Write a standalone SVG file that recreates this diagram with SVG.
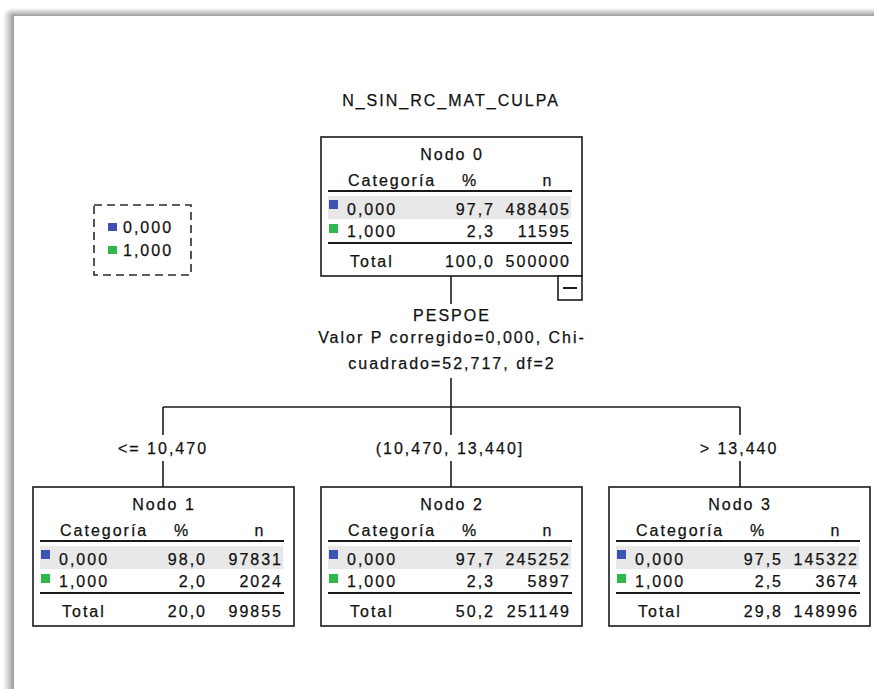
<svg xmlns="http://www.w3.org/2000/svg" width="874" height="689" viewBox="0 0 874 689">
<defs>
<style>
text{font-family:"Liberation Sans",Arial,sans-serif;font-size:16px;letter-spacing:2px;fill:#111;stroke:#111;stroke-width:0.25}
.mid{text-anchor:middle}
.end{text-anchor:end}
.box{fill:#fff;stroke:#1a1a1a;stroke-width:1.6}
.rule{stroke:#1a1a1a;stroke-width:2}
.band{fill:#e8e8e8}
.c0{fill:#3d52b4}
.c1{fill:#2fb84b}
.conn line{stroke:#1a1a1a;stroke-width:1.6}
</style>
<linearGradient id="gl" x1="0" y1="0" x2="1" y2="0">
<stop offset="0" stop-color="#fff"/>
<stop offset="0.6" stop-color="#c4c4c4"/>
<stop offset="1" stop-color="#9a9a9a"/>
</linearGradient>
<linearGradient id="gt" x1="0" y1="0" x2="0" y2="1">
<stop offset="0" stop-color="#fff"/>
<stop offset="0.6" stop-color="#c4c4c4"/>
<stop offset="1" stop-color="#9a9a9a"/>
</linearGradient>
<radialGradient id="gc" cx="1" cy="1" r="1">
<stop offset="0" stop-color="#9a9a9a"/>
<stop offset="0.4" stop-color="#c4c4c4"/>
<stop offset="1" stop-color="#fff"/>
</radialGradient>
</defs>
<rect width="874" height="689" fill="#fff"/>
<rect x="3" y="16" width="11" height="673" fill="url(#gl)"/>
<rect x="14" y="8" width="860" height="8" fill="url(#gt)"/>
<rect x="3" y="8" width="11" height="8" fill="url(#gc)"/>

<text x="451" y="106" class="mid">N_SIN_RC_MAT_CULPA</text>

<g id="legend">
<rect x="94" y="205" width="97" height="70" fill="none" stroke="#2a2a2a" stroke-width="1.6" stroke-dasharray="8,5"/>
<rect x="108" y="223" width="9" height="8" class="c0"/>
<text x="123" y="233">0,000</text>
<rect x="108" y="246" width="9" height="8" class="c1"/>
<text x="123" y="256">1,000</text>
</g>

<g id="conn" class="conn">
<line x1="451" y1="276" x2="451" y2="304"/>
<line x1="451" y1="378" x2="451" y2="407"/>
<line x1="163" y1="407" x2="740" y2="407"/>
<line x1="163" y1="407" x2="163" y2="435"/>
<line x1="163" y1="461" x2="163" y2="487"/>
<line x1="451" y1="407" x2="451" y2="435"/>
<line x1="451" y1="461" x2="451" y2="487"/>
<line x1="740" y1="407" x2="740" y2="435"/>
<line x1="740" y1="461" x2="740" y2="487"/>
</g>

<g id="split">
<text x="452" y="321" class="mid">PESPOE</text>
<text x="452" y="343" class="mid">Valor P corregido=0,000, Chi-</text>
<text x="452" y="369" class="mid">cuadrado=52,717, df=2</text>
<text x="163" y="454" class="mid">&lt;= 10,470</text>
<text x="450" y="454" class="mid">(10,470, 13,440]</text>
<text x="739" y="454" class="mid">&gt; 13,440</text>
</g>

<g id="node0">
<rect x="321" y="137" width="261" height="139" class="box"/>
<text x="452" y="160" class="mid">Nodo 0</text>
<text x="348" y="186">Categoría</text>
<text x="470" y="186" class="mid">%</text>
<text x="548" y="186" class="mid">n</text>
<line x1="328" y1="191" x2="572" y2="191" class="rule"/>
<rect x="328" y="196" width="243" height="23" class="band"/>
<rect x="329" y="200" width="9" height="9" class="c0"/>
<text x="347" y="215">0,000</text>
<text x="495" y="215" class="end">97,7</text>
<text x="571" y="215" class="end">488405</text>
<rect x="329" y="224" width="9" height="9" class="c1"/>
<text x="347" y="237">1,000</text>
<text x="495" y="237" class="end">2,3</text>
<text x="571" y="237" class="end">11595</text>
<line x1="328" y1="243" x2="572" y2="243" class="rule"/>
<text x="350" y="267">Total</text>
<text x="495" y="267" class="end">100,0</text>
<text x="571" y="267" class="end">500000</text>
<rect x="558" y="276" width="24" height="24" class="box"/>
<line x1="563" y1="288" x2="577" y2="288" class="rule" stroke-width="1.6"/>
</g>

<g id="node1" transform="translate(-288,350)">
<rect x="321" y="137" width="261" height="139" class="box"/>
<text x="452" y="160" class="mid">Nodo 1</text>
<text x="348" y="186">Categoría</text>
<text x="470" y="186" class="mid">%</text>
<text x="548" y="186" class="mid">n</text>
<line x1="328" y1="191" x2="572" y2="191" class="rule"/>
<rect x="328" y="196" width="243" height="23" class="band"/>
<rect x="329" y="200" width="9" height="9" class="c0"/>
<text x="347" y="215">0,000</text>
<text x="495" y="215" class="end">98,0</text>
<text x="571" y="215" class="end">97831</text>
<rect x="329" y="224" width="9" height="9" class="c1"/>
<text x="347" y="237">1,000</text>
<text x="495" y="237" class="end">2,0</text>
<text x="571" y="237" class="end">2024</text>
<line x1="328" y1="243" x2="572" y2="243" class="rule"/>
<text x="350" y="267">Total</text>
<text x="495" y="267" class="end">20,0</text>
<text x="571" y="267" class="end">99855</text>
</g>

<g id="node2" transform="translate(0,350)">
<rect x="321" y="137" width="261" height="139" class="box"/>
<text x="452" y="160" class="mid">Nodo 2</text>
<text x="348" y="186">Categoría</text>
<text x="470" y="186" class="mid">%</text>
<text x="548" y="186" class="mid">n</text>
<line x1="328" y1="191" x2="572" y2="191" class="rule"/>
<rect x="328" y="196" width="243" height="23" class="band"/>
<rect x="329" y="200" width="9" height="9" class="c0"/>
<text x="347" y="215">0,000</text>
<text x="495" y="215" class="end">97,7</text>
<text x="571" y="215" class="end">245252</text>
<rect x="329" y="224" width="9" height="9" class="c1"/>
<text x="347" y="237">1,000</text>
<text x="495" y="237" class="end">2,3</text>
<text x="571" y="237" class="end">5897</text>
<line x1="328" y1="243" x2="572" y2="243" class="rule"/>
<text x="350" y="267">Total</text>
<text x="495" y="267" class="end">50,2</text>
<text x="571" y="267" class="end">251149</text>
</g>

<g id="node3" transform="translate(288,350)">
<rect x="321" y="137" width="261" height="139" class="box"/>
<text x="452" y="160" class="mid">Nodo 3</text>
<text x="348" y="186">Categoría</text>
<text x="470" y="186" class="mid">%</text>
<text x="548" y="186" class="mid">n</text>
<line x1="328" y1="191" x2="572" y2="191" class="rule"/>
<rect x="328" y="196" width="243" height="23" class="band"/>
<rect x="329" y="200" width="9" height="9" class="c0"/>
<text x="347" y="215">0,000</text>
<text x="495" y="215" class="end">97,5</text>
<text x="571" y="215" class="end">145322</text>
<rect x="329" y="224" width="9" height="9" class="c1"/>
<text x="347" y="237">1,000</text>
<text x="495" y="237" class="end">2,5</text>
<text x="571" y="237" class="end">3674</text>
<line x1="328" y1="243" x2="572" y2="243" class="rule"/>
<text x="350" y="267">Total</text>
<text x="495" y="267" class="end">29,8</text>
<text x="571" y="267" class="end">148996</text>
</g>
</svg>
